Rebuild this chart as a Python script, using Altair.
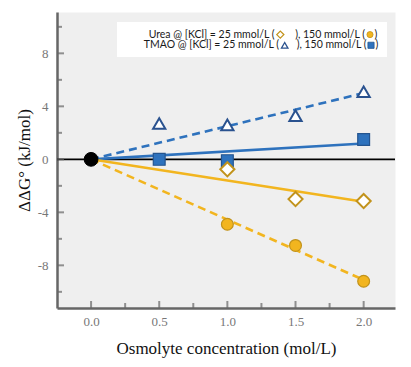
import altair as alt
import pandas as pd

# ---- data ----
urea25_x = [1.0, 1.5, 2.0]
urea25_y = [-0.75, -3.0, -3.15]
urea150_x = [1.0, 1.5, 2.0]
urea150_y = [-4.9, -6.5, -9.2]
tmao25_x = [0.5, 1.0, 1.5, 2.0]
tmao25_y = [2.7, 2.6, 3.3, 5.1]
tmao150_x = [0.5, 1.0, 2.0]
tmao150_y = [0.0, -0.1, 1.5]

origin_x = [0.0]
origin_y = [0.0]

fit_x = [0.0, 2.0]
fit_tmao25 = [0.0, 5.0]
fit_tmao150 = [0.0, 1.2]
fit_urea25 = [0.0, -3.2]
fit_urea150 = [0.0, -9.1]

y_major = [-8, -4, 0, 4, 8]
y_minor = [-10, -6, -2, 2, 6, 10]
x_major = [0.0, 0.5, 1.0, 1.5, 2.0]
x_minor = [0.25, 0.75, 1.25, 1.75]

BLUE = "#2e72bd"
BLUE_DARK = "#2a528f"
GOLD = "#f2b51f"
GOLD_DARK = "#c2931c"

W, H = 338, 296
XDOM = [-0.25, 2.23]
YDOM = [-11.22, 11.12]
SERIF = "Liberation Serif"
SANS = "Lato"

xs = alt.Scale(domain=XDOM, nice=False, zero=False)
ys = alt.Scale(domain=YDOM, nice=False, zero=False)

xaxis = alt.Axis(values=x_major, format=".1f", title="Osmolyte concentration (mol/L)",
                 grid=False, ticks=False, tickSize=0, domainColor="#666666", domainWidth=2.5,
                 labelFont=SERIF, labelFontSize=13, labelColor="#777777", labelPadding=7,
                 titleFont=SERIF, titleFontSize=17, titleFontWeight="normal", titleColor="#111111",
                 titlePadding=12)
yaxis = alt.Axis(values=y_major, title="ΔΔG° (kJ/mol)",
                 labelExpr="datum.value < 0 ? '-' + abs(datum.value) : '' + datum.value",
                 grid=False, ticks=False, tickSize=0, domainColor="#666666", domainWidth=2.5,
                 labelFont=SERIF, labelFontSize=13, labelColor="#777777", labelPadding=9,
                 titleFont=SERIF, titleFontSize=17, titleFontWeight="normal", titleColor="#111111",
                 titlePadding=4)


def df(x, y):
    return pd.DataFrame({"x": x, "y": y})


base_axes = alt.Chart(df(origin_x, origin_y)).mark_point(opacity=0).encode(
    x=alt.X("x:Q", scale=xs, axis=xaxis),
    y=alt.Y("y:Q", scale=ys, axis=yaxis),
)

zero_rule = alt.Chart(df(origin_x, origin_y)).mark_rule(color="black", strokeWidth=1.6).encode(
    y=alt.Y("y:Q", scale=ys)
)


def fit_line(yvals, color, dashed):
    kw = dict(color=color, strokeWidth=2.6)
    if dashed:
        kw["strokeDash"] = [8, 5]
    return alt.Chart(df(fit_x, yvals)).mark_line(**kw).encode(
        x=alt.X("x:Q", scale=xs), y=alt.Y("y:Q", scale=ys)
    )


lines = [
    fit_line(fit_tmao25, BLUE, True),
    fit_line(fit_tmao150, BLUE, False),
    fit_line(fit_urea25, GOLD, False),
    fit_line(fit_urea150, GOLD, True),
]


def pts(x, y, shape, size, fill, stroke, sw):
    return alt.Chart(df(x, y)).mark_point(shape=shape, size=size, filled=True, fill=fill,
                                          stroke=stroke, strokeWidth=sw, opacity=1).encode(
        x=alt.X("x:Q", scale=xs), y=alt.Y("y:Q", scale=ys)
    )


markers = [
    pts(tmao25_x, tmao25_y, "triangle-up", 150, "white", BLUE_DARK, 2),
    pts(tmao150_x, tmao150_y, "square", 140, BLUE, "#25558f", 1.2),
    pts(urea25_x, urea25_y, "diamond", 200, "white", GOLD_DARK, 2),
    pts(urea150_x, urea150_y, "circle", 140, GOLD, GOLD_DARK, 1.2),
    pts(origin_x, origin_y, "circle", 190, "black", "black", 1),
]


def yticks(vals, length):
    return alt.Chart(pd.DataFrame({"y": vals})).mark_tick(color="#666666", thickness=2, size=length).encode(
        y=alt.Y("y:Q", scale=ys), x=alt.value(length / 2)
    )


def xticks(vals, length):
    return alt.Chart(pd.DataFrame({"x": vals})).mark_tick(color="#666666", thickness=2, size=length).encode(
        x=alt.X("x:Q", scale=xs), y=alt.value(H - length / 2)
    )


ticks = [yticks(y_major, 7), yticks(y_minor, 5), xticks(x_major, 7), xticks(x_minor, 5)]

# ---- annotation legend box ----
legend_box = alt.Chart(df(origin_x, origin_y)).mark_rect(fill="white").encode(
    x=alt.value(60), x2=alt.value(330), y=alt.value(10), y2=alt.value(45)
)


def txt(s, xpx, ypx, align):
    return alt.Chart(df(origin_x, origin_y)).mark_text(
        text=s, font=SANS, fontSize=10.5, color="#1a1a1a", align=align, baseline="middle"
    ).encode(x=alt.value(xpx), y=alt.value(ypx))


def glyph(shape, xpx, ypx, size, fill, stroke, sw):
    return alt.Chart(df(origin_x, origin_y)).mark_point(
        shape=shape, size=size, filled=True, fill=fill, stroke=stroke, strokeWidth=sw, opacity=1
    ).encode(x=alt.value(xpx), y=alt.value(ypx))


L1, L2 = 22.6, 33.3
legend = [
    legend_box,
    txt("Urea @ [KCl] = 25 mmol/L  (", 217.5, L1, "right"),
    glyph("diamond", 223.3, L1, 50, "white", GOLD_DARK, 1.3),
    txt("), 150 mmol/L (", 308, L1, "right"),
    glyph("circle", 313, L1, 38, GOLD, GOLD_DARK, 0.8),
    txt(")", 317.5, L1, "left"),
    txt("TMAO @ [KCl] = 25 mmol/L  (", 222, L2, "right"),
    glyph("triangle-up", 227.7, L2, 42, "white", BLUE_DARK, 1.3),
    txt("), 150 mmol/L (", 309.5, L2, "right"),
    glyph("square", 314, L2, 38, BLUE, "#25558f", 0.8),
    txt(")", 318.5, L2, "left"),
]

chart = alt.layer(base_axes, zero_rule, *lines, *markers, *ticks, *legend).properties(
    width=W, height=H,
    autosize=alt.AutoSizeParams(type="none"),
    padding={"left": 49, "top": 4, "right": 8, "bottom": 51},
    background="white",
).configure_view(fill="#efefef", stroke="transparent")

chart.save("out.html", embed_options={"renderer": "svg", "actions": False})
